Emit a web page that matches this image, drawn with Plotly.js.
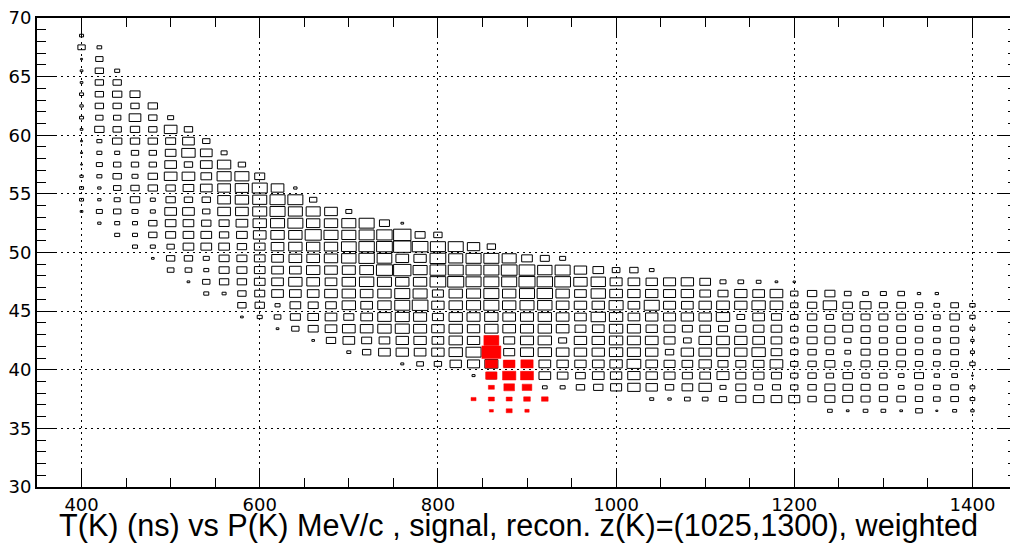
<!DOCTYPE html>
<html><head><meta charset="utf-8">
<script src="https://cdn.plot.ly/plotly-3.0.1.min.js"></script>
<style>
html,body{margin:0;padding:0;overflow:hidden;background:#fff;width:1010px;height:544px}
#plot{width:1023px;height:544px}
</style>
</head><body><div id="plot"></div>
<script>
// ---- data (bin contents) ----
const xBinWidth = 20;   // MeV/c
const yBinWidth = 1;    // ns
// y bin centres, top to bottom
const yBins = [68.5,67.5,66.5,65.5,64.5,63.5,62.5,61.5,60.5,59.5,58.5,57.5,56.5,55.5,54.5,53.5,
  52.5,51.5,50.5,49.5,48.5,47.5,46.5,45.5,44.5,43.5,42.5,41.5,40.5,39.5,38.5,37.5,36.5];
// first filled x bin centre in each row
const rowStartX = [400,400,400,400,400,400,400,400,400,400,400,400,400,400,400,400,
  420,440,460,480,500,520,540,580,580,620,660,700,760,840,920,1040,1240];
// bin contents (weighted), consecutive x bins from rowStartX
const rowWeights = [
  [12],
  [22,14],
  [6,22],
  [8,25,15],
  [8,25,25],
  [12,25,28,30],
  [10,25,25,25,28],
  [12,22,22,35,25,18],
  [8,28,25,28,25,38,25],
  [6,15,28,28,28,30,35,22],
  [6,15,15,22,22,32,40,35,18],
  [5,18,22,22,22,35,25,35,40,22],
  [10,15,25,18,28,38,38,32,42,42,30],
  [12,10,22,25,28,28,32,35,38,40,45,38,10],
  [12,10,18,28,15,28,25,25,38,40,42,45,45,22],
  [8,18,22,18,15,35,35,22,38,38,42,45,42,42,38,18],
  [10,15,15,25,32,32,28,30,35,40,42,45,40,40,42,45,30,8],
  [15,15,25,30,32,32,28,32,38,40,40,48,42,42,45,46,52,30,25],
  [15,15,22,32,32,32,28,32,38,40,40,40,44,46,47,52,47,45,45,37,25],
  [8,25,25,18,30,30,32,35,38,38,40,43,46,44,38,37,47,42,45,45,42,32,27,18],
  [20,20,15,30,30,32,35,35,40,38,39,41,48,52,42,47,45,45,45,47,47,43,45,37,32,23,25,14],
  [8,22,28,28,32,35,40,38,35,40,43,42,40,40,47,48,45,45,45,48,46,47,40,43,36,35,34,36,37,32,18,17,14,8,7],
  [15,12,25,30,35,35,35,38,40,38,40,45,42,33,40,42,45,40,45,46,40,35,43,38,37,37,36,37,32,30,37,35,38,22,28,30,20,17,18,20,10,10],
  [25,28,15,32,30,32,40,35,40,45,47,37,40,42,45,40,42,43,38,37,37,42,35,45,36,35,37,38,37,40,38,22,28,40,28,33,24,26,22,17,23,16],
  [8,15,20,30,32,35,30,35,40,42,39,33,40,39,40,38,39,40,38,35,43,40,35,37,36,37,37,40,23,35,30,22,28,22,28,27,27,26,22,20,28,16],
  [8,22,30,35,38,38,40,42,39,37,40,37,40,38,39,40,38,33,35,40,39,34,33,30,32,27,30,32,32,22,28,30,30,27,24,26,22,20,23,14],
  [8,28,35,30,32,37,37,35,40,37,38,33,39,40,24,37,37,40,39,38,33,23,37,38,37,35,32,22,30,30,20,27,24,26,22,20,25,10],
  [12,25,35,37,35,37,40,45,38,33,39,40,38,37,37,40,39,37,25,37,37,38,37,40,32,22,25,22,17,27,24,26,22,20,23,12],
  [9,20,22,34,36,39,30,30,35,34,34,35,37,41,35,33,32,37,30,30,32,38,22,25,30,20,27,24,26,22,20,23,16],
  [9,30,30,30,35,32,29,35,34,37,34,33,30,32,36,30,32,30,22,25,22,28,22,22,17,27,16,17,5],
  [14,15,25,28,33,37,34,25,32,37,18,30,23,24,22,25,30,28,27,24,17,22,20,23,14],
  [12,10,17,17,22,30,32,32,33,25,30,30,27,24,26,22,20,23,14],
  [14,8,14,14,8,20,6,12,10]
];
// signal (red) bins
const redX = [860,860,860,880,900,860,880,900,860,880,900,840,860,880,900,920,860,880,900];
const redY = [42.5,41.5,40.5,40.5,40.5,39.5,39.5,39.5,38.5,38.5,38.5,37.5,37.5,37.5,37.5,37.5,36.5,36.5,36.5];
const redW = [45,57,37,35,37,34,40,39,18,32,29,15,18,18,20,20,12,18,13];

const titleText = "T(K) (ns) vs P(K) MeV/c , signal, recon. z(K)=(1025,1300), weighted";

// ---- drawing ----
const fullBoxWeight = 53.4; // content at which a box fills its bin
function addBox(px, py, xc, yc, w) {
  const f = w / fullBoxWeight;
  const hx = f * xBinWidth / 2, hy = f * yBinWidth / 2;
  px.push(xc - hx, xc + hx, xc + hx, xc - hx, xc - hx, null);
  py.push(yc - hy, yc - hy, yc + hy, yc + hy, yc - hy, null);
}
const bx = [], by = [];
yBins.forEach((yc, i) => {
  rowWeights[i].forEach((w, j) => {
    if (w > 0) addBox(bx, by, rowStartX[i] + j * xBinWidth, yc, w);
  });
});
const rx = [], ry = [];
redX.forEach((xc, k) => addBox(rx, ry, xc, redY[k], redW[k]));

const traces = [
  {type: 'scatter', mode: 'lines', x: bx, y: by, line: {color: '#000', width: 1}, hoverinfo: 'skip', connectgaps: false},
  {type: 'scatter', mode: 'lines', x: rx, y: ry, fill: 'toself', fillcolor: '#ff0000', line: {color: '#ff0000', width: 0.5}, hoverinfo: 'skip', connectgaps: false}
];

const tickFont = {family: 'DejaVu Sans', size: 18, color: '#000'};
const axisCommon = {
  showline: true, linewidth: 2, linecolor: '#000', mirror: 'allticks',
  ticks: 'inside', ticklen: 18, tickwidth: 1, tickcolor: '#000',
  showgrid: true, gridcolor: '#000', gridwidth: 1, griddash: '2px,4px',
  zeroline: false, tickfont: tickFont, fixedrange: true
};
const layout = {
  width: 1023, height: 544,
  margin: {l: 37, r: 6, t: 18, b: 57},
  paper_bgcolor: '#fff', plot_bgcolor: '#fff',
  showlegend: false, hovermode: false,
  xaxis: Object.assign({}, axisCommon, {
    range: [350, 1450], tick0: 0, dtick: 200,
    minor: {dtick: 50, ticks: 'inside', ticklen: 9, tickwidth: 1, tickcolor: '#000', showgrid: false}
  }),
  yaxis: Object.assign({}, axisCommon, {
    range: [30, 70], tick0: 0, dtick: 5,
    minor: {dtick: 1, ticks: 'inside', ticklen: 9, tickwidth: 1, tickcolor: '#000', showgrid: false}
  }),
  annotations: [{
    text: titleText, xref: 'paper', yref: 'paper', x: 0.9622, y: -0.083,
    xanchor: 'right', yanchor: 'middle', showarrow: false,
    font: {family: 'Liberation Sans', size: 30.6, color: '#000'}
  }]
};
Plotly.newPlot('plot', traces, layout, {staticPlot: true, displayModeBar: false});
</script>
</body></html>
